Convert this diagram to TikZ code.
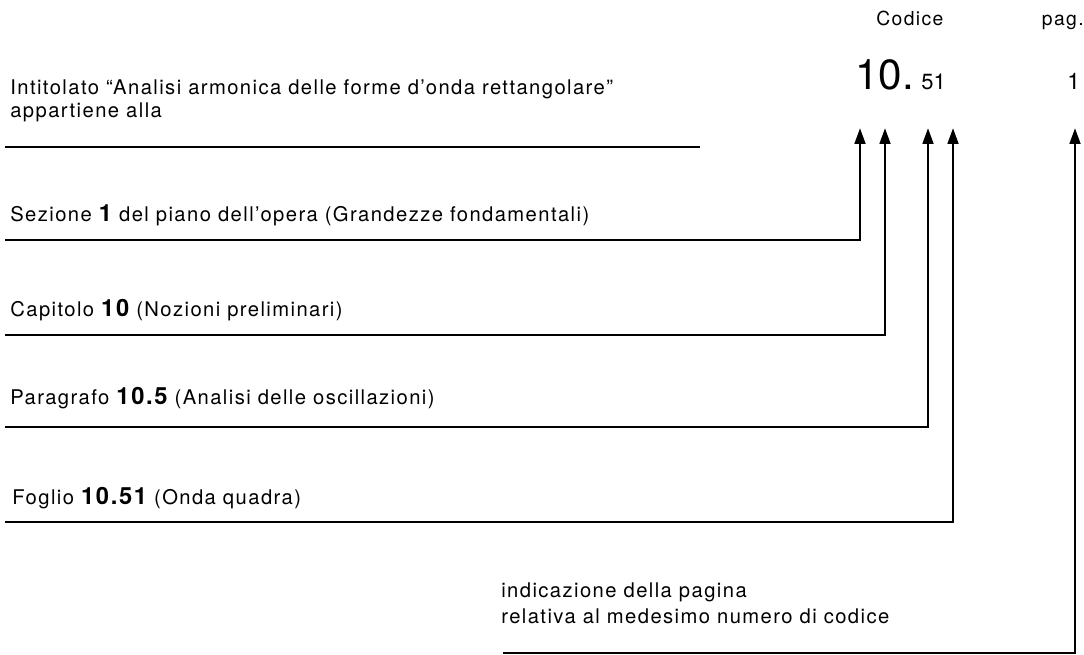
\documentclass[tikz,border=0pt]{standalone}
\usepackage{fontspec}
\setmainfont{TeX Gyre Heros}
\newfontfamily\lblfont{TeX Gyre Heros}[LetterSpace=7]
\usetikzlibrary{arrows.meta}
\begin{document}
\begin{tikzpicture}[x=0.2mm,y=-0.2mm]
\tikzset{
  lbl/.style={anchor=base west,inner sep=0pt,font=\lblfont\fontsize{11.5}{14}\selectfont},
  codetxt/.style={anchor=base west,inner sep=0pt},
  rule/.style={line width=1.6pt},
  ptr/.style={rule,-{Triangle[length=9pt,width=6pt]}},
}
\newcommand\bnum[1]{{\bfseries\fontsize{13.5}{14}\selectfont #1}}
\useasboundingbox (0,0) rectangle (1084,655);

%% Code heading
\node[codetxt,font=\lblfont\fontsize{11}{13}\selectfont] (codice) at (876,26) {Codice};
\node[codetxt,anchor=base east,font=\lblfont\fontsize{11}{13}\selectfont] (pag) at (1084,26) {pag.};
\node[codetxt,font=\fontsize{24}{26}\selectfont] (cap) at (855,90) {10.};
\node[codetxt,font=\fontsize{12.5}{14}\selectfont] (fgl) at (921,90) {51};
\node[codetxt,font=\fontsize{13}{15}\selectfont] (pnum) at (1067,90) {1};

%% Arrow tips
\coordinate (t1) at (860,128);
\coordinate (t2) at (885,128);
\coordinate (t3) at (928,128);
\coordinate (t4) at (953,128);
\coordinate (tp) at (1075,128);

%% Title
\node[lbl] (tit) at (10,95) {Intitolato “Analisi armonica delle forme d’onda rettangolare”};
\node[lbl] (tit2) at (10,118) {appartiene alla};
\coordinate (r0a) at (5,147);
\coordinate (r0b) at (700,147);
\draw[rule] (r0a) -- (r0b);

%% Sezione
\node[lbl] (sez) at (10,222) {Sezione \bnum{1} del piano dell’opera (Grandezze fondamentali)};
\coordinate (r1) at (5,240);
\draw[ptr] (r1) -| (t1);

%% Capitolo
\node[lbl] (capi) at (10,317) {Capitolo \bnum{10} (Nozioni preliminari)};
\coordinate (r2) at (5,335);
\draw[ptr] (r2) -| (t2);

%% Paragrafo
\node[lbl] (par) at (10,404) {Paragrafo \bnum{10.5} (Analisi delle oscillazioni)};
\coordinate (r3) at (5,427);
\draw[ptr] (r3) -| (t3);

%% Foglio
\node[lbl] (fog) at (12,504) {Foglio \bnum{10.51} (Onda quadra)};
\coordinate (r4) at (5,522);
\draw[ptr] (r4) -| (t4);

%% Pagina
\node[lbl] (ind) at (501,597) {indicazione della pagina};
\node[lbl] (ind2) at (501,623) {relativa al medesimo numero di codice};
\coordinate (r5) at (503,653);
\draw[ptr] (r5) -| (tp);
\end{tikzpicture}
\end{document}
